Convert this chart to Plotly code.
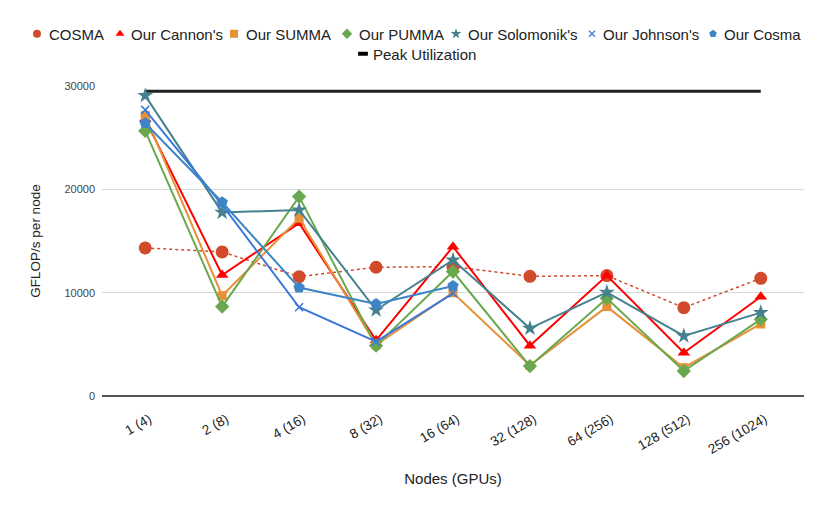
import plotly.graph_objects as go

categories = ["1 (4)", "2 (8)", "4 (16)", "8 (32)", "16 (64)", "32 (128)", "64 (256)", "128 (512)", "256 (1024)"]

cosma_ref = [14330, 13940, 11550, 12460, 12520, 11580, 11650, 8550, 11390]
cannon = [26800, 11710, 16720, 5390, 14450, 4870, 11650, 4190, 9610]
summa = [27130, 9710, 17200, 4940, 10000, 2950, 8650, 2740, 6970]
pumma = [25650, 8650, 19300, 4870, 12040, 2900, 9450, 2420, 7420]
solomonik = [29070, 17770, 18000, 8320, 13160, 6550, 10030, 5810, 8070]
johnson = [27690, 18500, 8590, 5260, 9940, None, None, None, None]
our_cosma = [26400, 18750, 10490, 8900, 10650, None, None, None, None]
peak = [29500] * 9

series = [
    ("COSMA", cosma_ref, "#d04a2b", "circle", 13, "dot", 1.5),
    ("Our Cannon's", cannon, "#ff0000", "triangle-up", 11, "solid", 2),
    ("Our SUMMA", summa, "#e69138", "square", 9, "solid", 2),
    ("Our PUMMA", pumma, "#6aa84f", "diamond", 11, "solid", 2),
    ("Our Solomonik's", solomonik, "#45818e", "star", 12, "solid", 2),
    ("Our Johnson's", johnson, "#3c78d8", "x-thin", 8, "solid", 2),
    ("Our Cosma", our_cosma, "#3d85c6", "pentagon", 12, "solid", 2),
]

# legend layout (px): symbol centres and text starts
legend_marker_x = [37, 120, 234, 347, 456, 592, 713]
legend_text_x = [49, 131, 246, 359, 468, 603, 724]
peak_marker_x = 363
peak_text_x = 373
TEXT_OFF = 40    # text offset inside a plotly legend item
MARKER_OFF = 20  # symbol offset inside a plotly legend item


def legend_box(x_px, y_px):
    return dict(orientation="h", xref="container", yref="container",
                x=x_px / 830, xanchor="left", y=1 - y_px / 513, yanchor="middle",
                font=dict(size=15, color="#222222"), itemwidth=30,
                bgcolor="rgba(0,0,0,0)")


fig = go.Figure()

fig.add_trace(go.Scatter(x=categories, y=peak, mode="lines", line=dict(color="#222222", width=3),
                         showlegend=False, hoverinfo="skip"))

for name, vals, col, sym, size, dash, lw in series:
    mline = dict(width=1.5, color=col) if sym == "x-thin" else dict(width=0)
    fig.add_trace(go.Scatter(x=categories, y=vals, mode="lines+markers", name=name,
                             line=dict(color=col, width=lw, dash=dash),
                             marker=dict(symbol=sym, size=size, color=col, line=mline),
                             showlegend=False))

legend_layouts = {}
n = len(series)
for i, (name, vals, col, sym, size, dash, lw) in enumerate(series):
    tkey = "legend" if i == 0 else f"legend{i + 1}"
    mkey = f"legend{n + 2 + i}"
    # text entry (symbol hidden)
    fig.add_trace(go.Scatter(x=[None], y=[None], mode="markers", name=name,
                             marker=dict(symbol="circle", size=1, color="rgba(0,0,0,0)"),
                             legend=tkey))
    legend_layouts[tkey] = legend_box(legend_text_x[i] - TEXT_OFF, 34)
    # symbol entry
    mline = dict(width=1.2, color=col) if sym == "x-thin" else dict(width=0)
    msize = 6 if sym == "x-thin" else 8
    fig.add_trace(go.Scatter(x=[None], y=[None], mode="markers", name="",
                             marker=dict(symbol=sym, size=msize, color=col, line=mline),
                             legend=mkey))
    legend_layouts[mkey] = legend_box(legend_marker_x[i] - MARKER_OFF, 34)

pt_key = f"legend{n + 1}"
pm_key = f"legend{2 * n + 2}"
fig.add_trace(go.Scatter(x=[None], y=[None], mode="markers", name="Peak Utilization",
                         marker=dict(symbol="circle", size=1, color="rgba(0,0,0,0)"),
                         legend=pt_key))
legend_layouts[pt_key] = legend_box(peak_text_x - TEXT_OFF, 54)
fig.add_trace(go.Scatter(x=[None], y=[None], mode="markers", name="",
                         marker=dict(symbol="line-ew", size=7, color="black",
                                     line=dict(width=4, color="black")),
                         legend=pm_key))
legend_layouts[pm_key] = legend_box(peak_marker_x - MARKER_OFF, 54)

fig.update_layout(
    width=830, height=513,
    paper_bgcolor="white", plot_bgcolor="white",
    margin=dict(l=102, r=26, t=86, b=117, autoexpand=False),
    font=dict(family="Liberation Sans, Arial, sans-serif", color="#222222"),
    xaxis=dict(type="category", showgrid=False, tickangle=-30, automargin=False,
               tickfont=dict(size=13.5, color="#222222"), ticks="", showline=False,
               ticklabelstandoff=12, ticklabelshift=4,
               title=dict(text="Nodes (GPUs)", font=dict(size=15), standoff=17)),
    yaxis=dict(range=[0, 30000], tickvals=[0, 10000, 20000, 30000], ticktext=["0", "10000", "20000", "30000"],
               showgrid=True, gridcolor="#d9d9d9", gridwidth=1, automargin=False,
               zeroline=True, zerolinecolor="#555555", zerolinewidth=1.5,
               tickfont=dict(size=11, color="#444444"), ticks="", ticklabelstandoff=6,
               title=dict(text="GFLOP/s per node", font=dict(size=13.5), standoff=20)),
    **legend_layouts,
)

fig.write_html("out.html", config={"displayModeBar": False},
               post_script="document.body.style.margin='0';")
